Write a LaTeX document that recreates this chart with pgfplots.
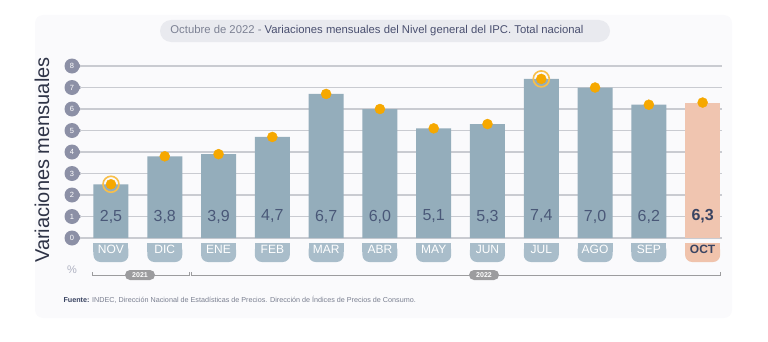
\documentclass[border=0pt]{standalone}
\usepackage{pgfplots}
\pgfplotsset{compat=1.18}
\usepackage{fontspec}
\setmainfont{Liberation Sans}
\definecolor{barc}{HTML}{94ADBB}
\definecolor{octc}{HTML}{F0C5B0}
\definecolor{tabc}{HTML}{A9BDCA}
\definecolor{taboct}{HTML}{F0C3AC}
\definecolor{dotc}{HTML}{F6A800}
\definecolor{ringc}{HTML}{F8BF4A}
\definecolor{gridc}{HTML}{C9CBD1}
\definecolor{tickc}{HTML}{8C90A6}
\definecolor{valc}{HTML}{4A5878}
\definecolor{darkc}{HTML}{3A4462}
\definecolor{titlebg}{HTML}{E9EAEF}
\definecolor{titlegray}{HTML}{7D8294}
\definecolor{titledark}{HTML}{4A5070}
\definecolor{ylabc}{HTML}{2E3346}
\definecolor{pillc}{HTML}{9C9C9E}
\definecolor{panel}{HTML}{FAFAFC}
\definecolor{srcc}{HTML}{7A7F90}
\pgfplotsset{base/.style={
  at={(80pt,103pt)}, anchor=south west,
  scale only axis, width=642pt, height=172pt,
  xmin=-0.576, xmax=11.36, ymin=0, ymax=8, clip=false}}
\begin{document}
\begin{tikzpicture}[x=1pt,y=1pt]
\path[use as bounding box] (0,0) rectangle (768,341);
\fill[panel, rounded corners=8pt] (35,23) rectangle (732,326);
% decoration axis (tabs and tick badges)
\begin{axis}[base, hide axis]
\pgfplotsinvokeforeach{0,...,10}{
  \fill[tabc, rounded corners=7pt] ([xshift=-17.5pt,yshift=-24pt]axis cs:#1,0) rectangle ([xshift=17.5pt,yshift=-5pt]axis cs:#1,0);
  \fill[tabc] ([xshift=-17.5pt,yshift=-14pt]axis cs:#1,0) rectangle ([xshift=17.5pt,yshift=-5pt]axis cs:#1,0);
}
\fill[taboct, rounded corners=7pt] ([xshift=-17.5pt,yshift=-24pt]axis cs:11,0) rectangle ([xshift=17.5pt,yshift=-5pt]axis cs:11,0);
\fill[taboct] ([xshift=-17.5pt,yshift=-14pt]axis cs:11,0) rectangle ([xshift=17.5pt,yshift=-5pt]axis cs:11,0);
\pgfplotsinvokeforeach{0,...,8}{
  \fill[tickc] ([xshift=-4pt,yshift=4.5pt]axis cs:-0.576,#1) -- ([xshift=1.5pt]axis cs:-0.576,#1) -- ([xshift=-4pt,yshift=-4.5pt]axis cs:-0.576,#1) -- cycle;
  \node[circle, fill=tickc, minimum size=15pt, inner sep=0pt] at ([xshift=-8pt]axis cs:-0.576,#1) {};
}
\end{axis}
\begin{axis}[base,
  axis line style={draw=none}, tick style={draw=none},
  ymajorgrids, grid style={gridc, line width=1.5pt},
  ytick={0,...,8},
  yticklabel style={text=white, inner sep=0pt,
     anchor=center, xshift=-8pt, font=\fontsize{7.5}{7.5}\selectfont},
  /pgf/number format/assume math mode=true,
  xtick={0,...,11},
  xticklabels={NOV,DIC,ENE,FEB,MAR,ABR,MAY,JUN,JUL,AGO,SEP,{\bfseries\color{darkc}OCT}},
  xticklabel style={anchor=base, yshift=-15.5pt, text=white, font=\fontsize{12}{12}\selectfont},
]
\addplot[ybar, bar shift=0pt, bar width=35pt, fill=barc, draw=none] coordinates {
 (0,2.5) (1,3.8) (2,3.9) (3,4.7) (4,6.7) (5,6.0) (6,5.1) (7,5.3) (8,7.4) (9,7.0) (10,6.2)};
\addplot[ybar, bar shift=0pt, bar width=35pt, fill=octc, draw=none] coordinates {(11,6.3)};
\addplot[only marks, mark=o, mark size=8pt, line width=1.6pt, color=ringc] coordinates {(0,2.5) (8,7.4)};
\addplot[only marks, mark=*, mark size=5pt, color=dotc] coordinates {
 (0,2.5) (1,3.8) (2,3.9) (3,4.7) (4,6.7) (5,6.0) (6,5.1) (7,5.3) (8,7.4) (9,7.0) (10,6.2) (11,6.3)};
\addplot[only marks, mark=none, nodes near coords, point meta=explicit symbolic,
  every node near coord/.style={anchor=center, color=valc, font=\fontsize{16}{16}\selectfont}]
  table[meta=lab, row sep=\\] {x y lab\\ 0 1 2,5\\ 1 1 3,8\\ 2 1 3,9\\ 3 1 4,7\\ 4 1 6,7\\ 5 1 6,0\\ 6 1 5,1\\ 7 1 5,3\\ 8 1 7,4\\ 9 1 7,0\\ 10 1 6,2\\};
\addplot[only marks, mark=none, nodes near coords, point meta=explicit symbolic,
  every node near coord/.style={anchor=center, color=darkc, font=\bfseries\fontsize{16}{16}\selectfont}]
  table[meta=lab, row sep=\\] {x y lab\\ 11 1 6,3\\};
\end{axis}
% title
\fill[titlebg, rounded corners=11pt] (160,299) rectangle (610,321);
\node at (377,310) {\fontsize{11.3}{13}\selectfont\color{titlegray}Octubre de 2022 - \color{titledark}Variaciones mensuales del Nivel general del IPC. Total nacional};
% y label
\node[rotate=90, text=ylabc] at (42,181) {\fontsize{20}{24}\selectfont Variaciones mensuales};
% percent
\node[text=tickc!70] at (72,71) {\fontsize{11}{12}\selectfont\%};
% year brackets
\draw[pillc, line width=1pt] (92,69) -- (92,66) -- (189,66) -- (189,69);
\draw[pillc, line width=1pt] (191,69) -- (191,66) -- (720,66) -- (720,69);
\node[fill=pillc, rounded corners=5pt, text=white, font=\bfseries\fontsize{7}{8}\selectfont, minimum width=30pt, minimum height=10pt, inner sep=1pt] at (140,66) {2021};
\node[fill=pillc, rounded corners=5pt, text=white, font=\bfseries\fontsize{7}{8}\selectfont, minimum width=30pt, minimum height=10pt, inner sep=1pt] at (484,66) {2022};
% source
\node[anchor=west, text=srcc, font=\fontsize{7.2}{8}\selectfont] at (60,41) {{\bfseries\color{darkc}Fuente:} INDEC, Dirección Nacional de Estadísticas de Precios. Dirección de Índices de Precios de Consumo.};
\end{tikzpicture}
\end{document}
